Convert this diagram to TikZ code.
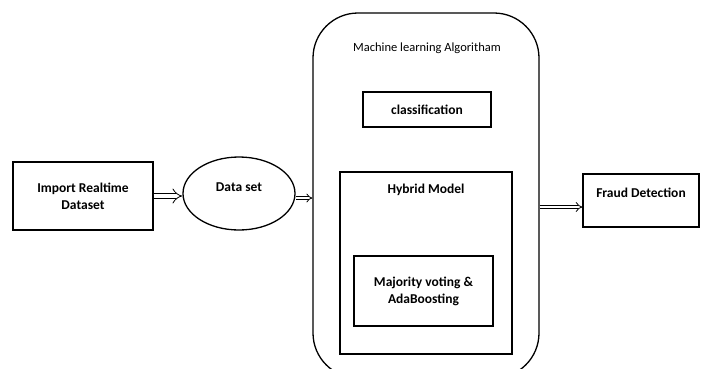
\documentclass[tikz,border=0pt]{standalone}
\usepackage{fontspec}
\setmainfont{Carlito}
\usetikzlibrary{arrows.meta,shapes.geometric}
\begin{document}
\begin{tikzpicture}[x=1pt,y=-1pt,
  box/.style={draw, line width=1.3pt, inner sep=0pt},
  lbl/.style={font=\bfseries\fontsize{13.5}{17}\selectfont, align=center},
  dblarrow/.style={double, line width=0.8pt, -{Implies}}
]
\useasboundingbox (0,0) rectangle (705,368);
\clip (0,0) rectangle (705,368);
% shapes
\node[box, minimum width=140pt, minimum height=68pt, lbl] (imp) at (83,196) {Import Realtime\\Dataset};
\node[box, ellipse, minimum width=112pt, minimum height=73pt] (ds) at (239,193.5) {};
\node[lbl] (dst) at (239,187) {Data set};
\node[box, rounded corners=45pt, minimum width=226pt, minimum height=365pt] (ml) at (426,195.5) {};
\node[font=\fontsize{12.5}{15}\selectfont] (mlt) at (427,48) {Machine learning Algoritham};
\node[box, minimum width=128pt, minimum height=35pt, lbl] (cls) at (427,109.5) {classification};
\node[box, minimum width=172pt, minimum height=182pt] (hyb) at (426,263) {};
\node[lbl] (hybt) at (426,190) {Hybrid Model};
\node[box, minimum width=139pt, minimum height=70pt, lbl] (maj) at (423.5,291) {Majority voting \&\\AdaBoosting};
\node[box, minimum width=116pt, minimum height=53pt] (fr) at (641,200.5) {};
\node[lbl] (frt) at (641,193) {Fraud Detection};
% connectors
\coordinate (a1) at (ds.west |- imp.east);
\draw[dblarrow, double distance=4.5pt] (imp.east) -- (a1);
\coordinate (a2s) at (ds.east |- 0,198);
\coordinate (a2e) at (ml.west |- 0,198);
\draw[dblarrow, double distance=2.2pt] (a2s) -- (a2e);
\coordinate (a3s) at (ml.east |- 0,207);
\coordinate (a3e) at (fr.west |- 0,207);
\draw[dblarrow, double distance=2.6pt] (a3s) -- (a3e);
\end{tikzpicture}
\end{document}
